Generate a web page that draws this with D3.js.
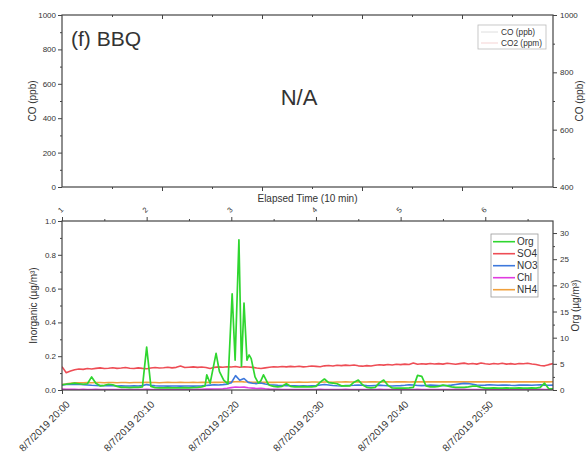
<!DOCTYPE html>
<html>
<head>
<meta charset="utf-8">
<script src="https://cdn.jsdelivr.net/npm/d3@7/dist/d3.min.js"></script>
<style>
  body { margin: 0; background: #fff; }
  svg text { font-family: "Liberation Sans", Arial, sans-serif; fill: #333; }
</style>
</head>
<body>
<div id="chart"></div>
<script>
// ---- data ----
const startTime = new Date(2019, 7, 7, 20, 0, 0);
const stepSeconds = 30;            // inorganic species sampling step
const seriesNames = ["Org", "SO4", "NO3", "Chl", "NH4"];
const topLegendNames = ["CO (ppb)", "CO2 (ppm)"];
const elapsedLabels = [1, 2, 3, 4, 5, 6];

// ug/m3, left axis, one value every 30 s from 20:00
const so4 = [
  0.138, 0.102, 0.112, 0.120, 0.124, 0.122, 0.127, 0.124, 0.128, 0.131,
  0.127, 0.129, 0.132, 0.128, 0.130, 0.133, 0.129, 0.127, 0.131, 0.128,
  0.126, 0.130, 0.133, 0.130, 0.132, 0.135, 0.131, 0.134, 0.142, 0.133,
  0.135, 0.137, 0.134, 0.136, 0.133, 0.127, 0.134, 0.137, 0.135, 0.138,
  0.136, 0.139, 0.135, 0.138, 0.136, 0.134, 0.130, 0.127, 0.131, 0.135,
  0.138, 0.136, 0.139, 0.137, 0.140, 0.138, 0.141, 0.137, 0.139, 0.142,
  0.140, 0.138, 0.143, 0.145, 0.142, 0.146, 0.144, 0.147, 0.145, 0.148,
  0.143, 0.141, 0.144, 0.142, 0.146, 0.149, 0.147, 0.151, 0.148, 0.152,
  0.150, 0.153, 0.151, 0.160, 0.152, 0.155, 0.153, 0.157, 0.154, 0.156,
  0.153, 0.158, 0.155, 0.152, 0.156, 0.159, 0.154, 0.157, 0.153, 0.160,
  0.155, 0.152, 0.157, 0.154, 0.158, 0.153, 0.156, 0.152, 0.157, 0.155,
  0.158, 0.154, 0.151, 0.145, 0.143, 0.150, 0.156
];
const nh4 = [
  0.032, 0.036, 0.039, 0.042, 0.043, 0.043, 0.044, 0.043, 0.044, 0.044,
  0.043, 0.044, 0.044, 0.043, 0.044, 0.044, 0.043, 0.044, 0.044, 0.044,
  0.045, 0.044, 0.044, 0.043, 0.044, 0.045, 0.044, 0.044, 0.045, 0.044,
  0.044, 0.045, 0.044, 0.045, 0.045, 0.044, 0.046, 0.045, 0.046, 0.047,
  0.048, 0.049, 0.050, 0.048, 0.047, 0.046, 0.046, 0.045, 0.045, 0.046,
  0.045, 0.046, 0.046, 0.045, 0.046, 0.046, 0.047, 0.046, 0.046, 0.047,
  0.047, 0.046, 0.047, 0.047, 0.046, 0.047, 0.047, 0.048, 0.047, 0.047,
  0.048, 0.047, 0.047, 0.048, 0.048, 0.047, 0.048, 0.048, 0.047, 0.048,
  0.048, 0.048, 0.047, 0.048, 0.048, 0.049, 0.048, 0.048, 0.048, 0.049,
  0.048, 0.048, 0.049, 0.048, 0.048, 0.049, 0.048, 0.048, 0.049, 0.048,
  0.048, 0.049, 0.048, 0.048, 0.049, 0.048, 0.048, 0.049, 0.048, 0.048,
  0.049, 0.048, 0.048, 0.049, 0.048, 0.048, 0.049
];
const no3 = [
  0.030, 0.033, 0.034, 0.033, 0.034, 0.032, 0.030, 0.028, 0.027, 0.026,
  0.025, 0.026, 0.025, 0.024, 0.025, 0.024, 0.024, 0.025, 0.024, 0.026,
  0.032, 0.028, 0.025, 0.024, 0.024, 0.023, 0.024, 0.024, 0.023, 0.024,
  0.024, 0.023, 0.024, 0.025, 0.027, 0.029, 0.031, 0.030, 0.032, 0.035,
  0.043, 0.085, 0.058, 0.068, 0.045, 0.040, 0.038, 0.041, 0.035, 0.031,
  0.030, 0.028, 0.027, 0.026, 0.025, 0.025, 0.024, 0.025, 0.024, 0.025,
  0.026, 0.030, 0.033, 0.030, 0.027, 0.025, 0.024, 0.026, 0.027, 0.028,
  0.030, 0.028, 0.026, 0.025, 0.027, 0.029, 0.027, 0.025, 0.024, 0.025,
  0.026, 0.028, 0.031, 0.030, 0.027, 0.026, 0.027, 0.029, 0.028, 0.026,
  0.026, 0.027, 0.029, 0.033, 0.036, 0.039, 0.038, 0.034, 0.030, 0.028,
  0.029, 0.031, 0.030, 0.028, 0.029, 0.030, 0.028, 0.027, 0.029, 0.030,
  0.029, 0.028, 0.030, 0.031, 0.029, 0.028, 0.029
];
const chl = [
  0.005, 0.004, 0.004, 0.004, 0.003, 0.004, 0.003, 0.003, 0.004, 0.003,
  0.003, 0.003, 0.003, 0.003, 0.003, 0.003, 0.003, 0.003, 0.003, 0.003,
  0.004, 0.003, 0.003, 0.003, 0.003, 0.003, 0.003, 0.003, 0.003, 0.003,
  0.003, 0.003, 0.004, 0.004, 0.005, 0.005, 0.006, 0.006, 0.007, 0.010,
  0.014, 0.018, 0.016, 0.017, 0.013, 0.011, 0.009, 0.010, 0.007, 0.005,
  0.004, 0.004, 0.003, 0.003, 0.003, 0.003, 0.003, 0.003, 0.003, 0.003,
  0.003, 0.004, 0.003, 0.003, 0.003, 0.003, 0.003, 0.004, 0.003, 0.003,
  0.003, 0.003, 0.003, 0.003, 0.003, 0.004, 0.003, 0.003, 0.003, 0.003,
  0.003, 0.003, 0.003, 0.003, 0.004, 0.003, 0.003, 0.003, 0.003, 0.003,
  0.003, 0.003, 0.003, 0.004, 0.004, 0.004, 0.003, 0.003, 0.003, 0.003,
  0.003, 0.003, 0.003, 0.003, 0.003, 0.003, 0.003, 0.003, 0.003, 0.003,
  0.003, 0.003, 0.003, 0.004, 0.003, 0.003, 0.003
];

// Org, right axis (ug/m3); minutes after 20:00
const orgMinutes = [
  0, 0.5, 1, 1.5, 2, 2.5, 3, 3.5, 4, 4.5,
  5, 5.5, 6, 6.5, 7, 7.5, 8, 8.5, 9, 9.5,
  10, 10.5, 11, 11.5, 12, 12.5, 13, 13.5, 14, 14.5,
  15, 15.5, 16, 16.5, 16.9, 17.1, 17.5, 18.2, 18.6, 19.1,
  19.6, 20.1, 20.45, 20.9, 21.2, 21.5, 21.85, 22.1, 22.35, 22.8,
  23.2, 23.5, 23.8, 24.3, 24.5, 25, 25.5, 26, 26.5, 27,
  27.5, 28, 28.5, 29, 29.5, 30, 30.5, 31, 31.5, 32,
  32.5, 33, 33.5, 34, 34.5, 35, 35.5, 36, 36.5, 37,
  37.5, 38, 38.5, 39, 39.5, 40, 40.5, 41, 41.5, 42,
  42.5, 43, 43.5, 44, 44.5, 45, 45.5, 46, 46.5, 47,
  47.5, 48, 48.5, 49, 49.5, 50, 50.5, 51, 51.5, 52,
  52.5, 53, 53.5, 54, 54.5, 55, 55.5, 56, 56.5, 57,
  57.5, 58
];
const org = [
  1.0, 1.1, 1.2, 1.3, 1.2, 1.1, 1.2, 2.5, 1.3, 0.8,
  0.9, 1.1, 1.0, 0.7, 0.5, 0.5, 0.45, 0.5, 0.5, 0.6,
  8.2, 0.7, 0.45, 0.4, 0.4, 0.45, 0.4, 0.4, 0.4, 0.45,
  0.4, 0.45, 0.5, 0.6, 0.8, 2.9, 1.3, 7.0, 3.5, 1.9,
  1.15, 18.4, 5.7, 28.7, 4.5, 16.6, 5.7, 6.7, 6.0, 2.5,
  1.3, 1.8, 2.9, 1.3, 0.9, 0.7, 0.6, 0.7, 1.2, 0.7,
  0.6, 0.6, 0.65, 0.6, 0.6, 0.7, 1.5, 2.1, 1.4, 1.3,
  1.2, 0.8, 0.8, 0.8, 1.5, 1.9, 1.0, 0.5, 0.4, 0.5,
  1.4, 1.9, 0.9, 0.4, 0.35, 0.35, 0.35, 0.4, 0.5, 2.8,
  2.6, 0.8, 0.6, 0.6, 0.7, 0.95, 0.8, 0.6, 0.5, 0.5,
  0.5, 0.6, 0.75, 0.75, 0.5, 0.35, 0.35, 0.4, 0.35, 0.35,
  0.4, 0.35, 0.35, 0.4, 0.35, 0.35, 0.4, 0.35, 0.5, 1.3,
  0.25, 0.2
];

// ---- layout ----
const width = 588, height = 472;
const left = 62, right = 553;
const top1 = 15, bottom1 = 187;
const top2 = 221, bottom2 = 390;
const axisColor = "#444";
const colors = { Org: "#2fd62f", SO4: "#ee4d55", NO3: "#3d78dc", Chl: "#e03ce0", NH4: "#f0a03c" };

const svg = d3.select("#chart").append("svg")
  .attr("width", width)
  .attr("height", height);

function styleAxis(g, fontSize) {
  g.select(".domain").remove();
  g.selectAll(".tick line").attr("stroke", axisColor).attr("stroke-width", 1);
  g.selectAll(".tick text").style("font-size", fontSize || "8px").attr("fill", "#333");
  return g;
}

function addAxis(gen, tx, ty, fontSize) {
  return styleAxis(svg.append("g").attr("transform", `translate(${tx},${ty})`).call(gen), fontSize);
}

const intFmt = d3.format("d");

// ================= top panel (CO, no data) =================
const topX = d3.scaleLinear().domain([0, 4.91]).range([left, right]);
const coY = d3.scaleLinear().domain([0, 1000]).range([bottom1, top1]);
const coYR = d3.scaleLinear().domain([400, 1000]).range([bottom1, top1]);

addAxis(d3.axisLeft(coY).tickValues(d3.range(0, 1001, 200)).tickSize(4).tickPadding(2).tickFormat(intFmt), left, 0);
addAxis(d3.axisLeft(coY).tickValues(d3.range(100, 1000, 200)).tickSize(2).tickFormat(""), left, 0);
addAxis(d3.axisRight(coYR).tickValues(d3.range(400, 1001, 200)).tickSize(4).tickPadding(3).tickFormat(intFmt), right, 0);
addAxis(d3.axisRight(coYR).tickValues(d3.range(500, 1000, 200)).tickSize(2).tickFormat(""), right, 0);
addAxis(d3.axisBottom(topX).tickValues([1, 2, 3, 4]).tickSize(4).tickFormat(""), 0, bottom1);
addAxis(d3.axisBottom(topX).tickValues([0.5, 1.5, 2.5, 3.5, 4.5]).tickSize(2).tickFormat(""), 0, bottom1);
addAxis(d3.axisTop(topX).tickValues([1, 2, 3, 4]).tickSize(-4).tickFormat(""), 0, top1);
addAxis(d3.axisTop(topX).tickValues([0.5, 1.5, 2.5, 3.5, 4.5]).tickSize(-2).tickFormat(""), 0, top1);

svg.append("rect")
  .attr("x", left).attr("y", top1)
  .attr("width", right - left).attr("height", bottom1 - top1)
  .attr("fill", "none").attr("stroke", axisColor).attr("stroke-width", 1.2);

svg.append("text").text("(f) BBQ")
  .attr("x", 71).attr("y", 46)
  .style("font-size", "21px").attr("fill", "#111");
svg.append("text").text("N/A")
  .attr("x", 299).attr("y", 104.5)
  .attr("text-anchor", "middle")
  .style("font-size", "22px").attr("fill", "#111");

svg.append("text").text("CO (ppb)")
  .attr("transform", `translate(35.5,${(top1 + bottom1) / 2}) rotate(-90)`)
  .attr("text-anchor", "middle").style("font-size", "10px");
svg.append("text").text("CO (ppb)")
  .attr("transform", `translate(582.5,${(top1 + bottom1) / 2}) rotate(-90)`)
  .attr("text-anchor", "middle").style("font-size", "10px");

// top legend (empty series)
const topLeg = svg.append("g").attr("transform", "translate(478,25)");
topLeg.append("rect").attr("width", 68).attr("height", 24)
  .attr("fill", "#fff").attr("stroke", "#bbb").attr("stroke-width", 0.8);
topLegendNames.forEach((name, i) => {
  const y = 7 + i * 11;
  topLeg.append("line").attr("x1", 3).attr("x2", 20).attr("y1", y).attr("y2", y)
    .attr("stroke", i === 0 ? "#d6d6d6" : "#f2c8c8").attr("stroke-width", 0.8);
  topLeg.append("text").text(name).attr("x", 23).attr("y", y).attr("dy", "0.35em")
    .style("font-size", "8.3px");
});

svg.append("text").text("Elapsed Time (10 min)")
  .attr("x", (left + right) / 2).attr("y", 201.5)
  .attr("text-anchor", "middle").style("font-size", "10px");

// ================= bottom panel (AMS species) =================
const endTime = d3.timeMinute.offset(startTime, 58);
const x = d3.scaleTime().domain([startTime, endTime]).range([left, right]);
const inorgY = d3.scaleLinear().domain([0, 1]).range([bottom2, top2]);
const orgY = d3.scaleLinear().domain([0, 32.3]).range([bottom2, top2]);
const elapsed = d3.scaleLinear().domain([1, 1 + 58 / 10]).range([left, right]);

const majorTimes = d3.timeMinute.every(10).range(startTime, endTime);
const minorTimes = d3.timeMinute.every(5).range(startTime, endTime).filter(d => d.getMinutes() % 10 !== 0);
const fmt = d3.timeFormat("%-m/%-d/%Y %H:%M");

const xAxisG = addAxis(d3.axisBottom(x).tickValues(majorTimes).tickSize(4).tickFormat(fmt), 0, bottom2, "10px");
xAxisG.selectAll(".tick text")
  .attr("y", null).attr("dy", null)
  .attr("text-anchor", "end")
  .attr("transform", "translate(8,15) rotate(-45)");
addAxis(d3.axisBottom(x).tickValues(minorTimes).tickSize(2).tickFormat(""), 0, bottom2);

const topAxisG = addAxis(d3.axisTop(elapsed).tickValues(elapsedLabels).tickSize(4).tickFormat(intFmt), 0, top2, "7.5px");
topAxisG.selectAll(".tick text")
  .attr("y", null).attr("dy", "0.35em")
  .attr("text-anchor", "middle")
  .attr("transform", "translate(-2,-11) rotate(-45)");
addAxis(d3.axisTop(elapsed).tickValues([1.5, 2.5, 3.5, 4.5, 5.5, 6.5]).tickSize(2).tickFormat(""), 0, top2);

addAxis(d3.axisLeft(inorgY).tickValues(d3.range(0, 1.01, 0.2)).tickSize(4).tickPadding(2).tickFormat(d3.format(".1f")), left, 0);
addAxis(d3.axisLeft(inorgY).tickValues(d3.range(0.1, 1, 0.2)).tickSize(2).tickFormat(""), left, 0);
addAxis(d3.axisRight(orgY).tickValues(d3.range(0, 31, 5)).tickSize(4).tickPadding(3).tickFormat(intFmt), right, 0);
addAxis(d3.axisRight(orgY).tickValues(d3.range(2.5, 32, 5)).tickSize(2).tickFormat(""), right, 0);

svg.append("clipPath").attr("id", "clipBottom").append("rect")
  .attr("x", left).attr("y", top2).attr("width", right - left).attr("height", bottom2 - top2);

const plot = svg.append("g").attr("clip-path", "url(#clipBottom)");

const timeAt = i => new Date(startTime.getTime() + i * stepSeconds * 1000);
const inorgLine = d3.line().x((d, i) => x(timeAt(i))).y(d => inorgY(d));

const inorganic = [
  { name: "NH4", values: nh4 },
  { name: "SO4", values: so4 },
  { name: "NO3", values: no3 },
  { name: "Chl", values: chl }
];
inorganic.forEach(s => {
  plot.append("path")
    .datum(s.values)
    .attr("d", inorgLine)
    .attr("fill", "none")
    .attr("stroke", colors[s.name])
    .attr("stroke-width", 1.6)
    .attr("stroke-linejoin", "round");
});

const orgLine = d3.line()
  .x((d, i) => x(new Date(startTime.getTime() + orgMinutes[i] * 60000)))
  .y(d => orgY(d));
plot.append("path")
  .datum(org)
  .attr("d", orgLine)
  .attr("fill", "none")
  .attr("stroke", colors.Org)
  .attr("stroke-width", 1.7)
  .attr("stroke-linejoin", "round");

svg.append("rect")
  .attr("x", left).attr("y", top2)
  .attr("width", right - left).attr("height", bottom2 - top2)
  .attr("fill", "none").attr("stroke", axisColor).attr("stroke-width", 1.2);

svg.append("text").text("Inorganic (µg/m³)")
  .attr("transform", `translate(37,${(top2 + bottom2) / 2}) rotate(-90)`)
  .attr("text-anchor", "middle").style("font-size", "10px");
svg.append("text").text("Org (µg/m³)")
  .attr("transform", `translate(579,${(top2 + bottom2) / 2}) rotate(-90)`)
  .attr("text-anchor", "middle").style("font-size", "10px");

// legend
const leg = svg.append("g").attr("transform", "translate(491,234)");
leg.append("rect").attr("width", 47).attr("height", 63)
  .attr("fill", "#fff").attr("stroke", "#999").attr("stroke-width", 0.8);
seriesNames.forEach((name, i) => {
  const y = 7.7 + i * 12;
  leg.append("line").attr("x1", 2).attr("x2", 24).attr("y1", y).attr("y2", y)
    .attr("stroke", colors[name]).attr("stroke-width", 1.6);
  leg.append("text").text(name).attr("x", 26).attr("y", y).attr("dy", "0.36em")
    .style("font-size", "10px");
});
</script>
</body>
</html>
